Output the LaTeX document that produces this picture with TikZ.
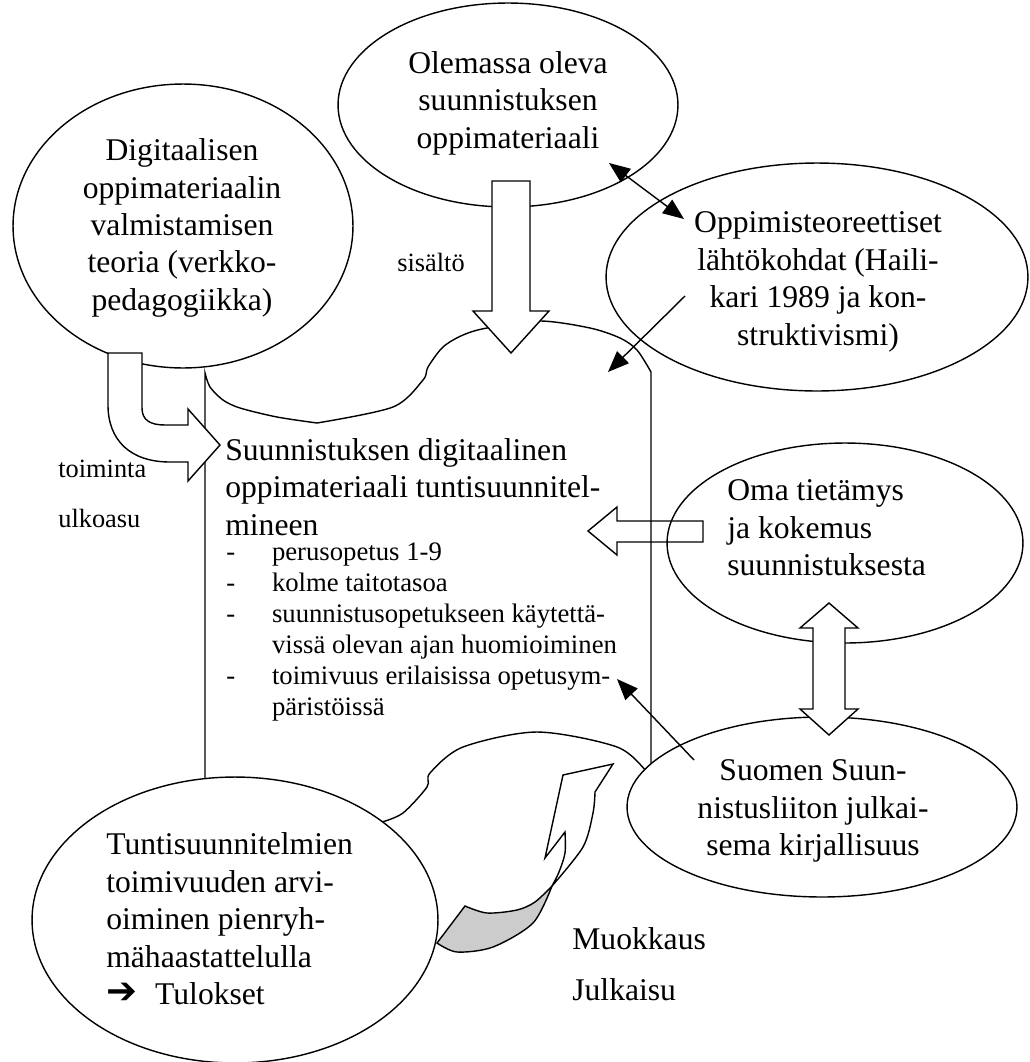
\documentclass[tikz,border=0pt]{standalone}
\usepackage{fontspec}
\setmainfont{Liberation Serif}
\newfontfamily\symfont{DejaVu Sans}
\usetikzlibrary{shapes.geometric,arrows.meta}

\newcommand\itemdash{\makebox[26pt][l]{-}}
\newcommand\itemgap{\hspace*{26pt}}
\newcommand\resultarrow{\makebox[27.8pt][l]{\raisebox{0.5pt}{\symfont\fontsize{21}{21}\selectfont ➔}}}

\tikzset{headtip/.tip={Triangle[length=12pt,width=9.5pt]}}

\begin{document}
\begin{tikzpicture}[x=0.02cm,y=-0.02cm,
  outline/.style={draw=black,line width=0.8pt,line join=miter},
  oval/.style={ellipse,draw=black,line width=0.8pt,fill=white,inner sep=0pt},
  blockarrow/.style={outline,fill=white},
  thinarrow/.style={draw=black,line width=0.8pt},
  bigtext/.style={font=\fontsize{18}{21.3}\selectfont,inner sep=0pt},
  listtext/.style={font=\fontsize{15.2}{17.6}\selectfont,inner sep=0pt,align=left},
  labeltext/.style={font=\fontsize{15}{17}\selectfont,inner sep=0pt},
]
\useasboundingbox (0,0) rectangle (1029,1062);

% the scroll-shaped sheet holding the lesson material
\filldraw[outline,fill=white]
  plot[smooth] coordinates {(205,373) (210,387) (223,400) (240,408) (277,417) (317,423)}
  -- plot[smooth] coordinates {(317,423) (393,407) (423,380) (428,367) (443,347) (463,335) (487,328) (540,321) (590,328) (620,338) (637,350) (651,372)}
  -- (651,778)
  -- plot[smooth] coordinates {(651,778) (648,773) (617,747) (537,732) (463,747) (430,773) (427,787) (403,813) (382,822)}
  -- (382,870) -- (205,870) -- cycle;

% ovals
\node[oval,minimum width=6.8cm,minimum height=5.68cm] (teoria) at (183,226) {};
\node[oval,minimum width=6.8cm,minimum height=4.08cm] (olemassa) at (508,105) {};
\node[oval,minimum width=8.44cm,minimum height=4.56cm] (oppimis) at (817,277) {};
\node[oval,minimum width=7.12cm,minimum height=4cm] (oma) at (845,543) {};
\node[oval,minimum width=7.8cm,minimum height=3.6cm] (liitto) at (822,807) {};
\node[oval,minimum width=8.12cm,minimum height=5.72cm] (arviointi) at (235,920) {};

% block arrow: content flows down into the sheet
\filldraw[blockarrow] (492,181) -- (530,181) -- (530,311) -- (549,311) -- (511,353)
  -- (473,311) -- (492,311) -- cycle;

% bent block arrow from the theory oval
\filldraw[blockarrow] (108,353) -- (142,353) -- (142,408)
  .. controls (142,420) and (150,425) .. (165,425) -- (188,425) -- (188,409)
  -- (220,445) -- (188,481) -- (188,462) -- (170,462)
  .. controls (130,462) and (108,440) .. (108,405) -- cycle;

% block arrow from own knowledge
\draw[outline] (703,521) -- (617,521) -- (617,507) -- (588,531) -- (617,555)
  -- (617,542) -- (703,542) -- cycle;

% two-way block arrow between the right ovals
\filldraw[blockarrow] (829,603) -- (858,628) -- (845,628) -- (845,709) -- (858,709)
  -- (829,735) -- (800,709) -- (813,709) -- (813,628) -- (800,628) -- cycle;

% twisted curved arrow: front face
\filldraw[blockarrow] (565,832) -- (545,858) -- (563,775) -- (613,764) -- (595,792)
  -- plot[smooth] coordinates {(595,792) (593,813) (583,847) (552,886)}
  -- plot[smooth] coordinates {(552,886) (559,872) (565,853) (565,832)} -- cycle;
% twisted curved arrow: back face
\filldraw[outline,fill=black!20]
  plot[smooth] coordinates {(552,886) (535,902) (517,910) (487,913) (465,906)}
  -- (437,943)
  -- plot[smooth] coordinates {(437,943) (457,952) (493,947) (533,923) (552,886)} -- cycle;

% thin connectors
\coordinate (olemassaEdge) at (609,163);
\coordinate (oppimisEdge) at (684,219);
\coordinate (oppimisFrom) at (685,296);
\coordinate (sheetTop) at (608,372);
\coordinate (liittoFrom) at (694,760);
\coordinate (listEnd) at (617,679);
\draw[thinarrow,headtip-headtip] (olemassaEdge) -- (oppimisEdge);
\draw[thinarrow,-headtip] (oppimisFrom) -- (sheetTop);
\draw[thinarrow,-headtip] (liittoFrom) -- (listEnd);

% oval texts
\node[bigtext,align=center] (teoriaText) at (182,228)
  {Digitaalisen\\oppimateriaalin\\valmistamisen\\teoria (verkko-\\pedagogiikka)};
\node[bigtext,align=center] (olemassaText) at (508,103)
  {Olemassa oleva\\suunnistuksen\\oppimateriaali};
\node[bigtext,align=center] (oppimisText) at (818,282)
  {Oppimisteoreettiset\\lähtökohdat (Haili-\\kari 1989 ja kon-\\struktivismi)};
\node[bigtext,align=left,anchor=west] (omaText) at (727,528)
  {Oma tietämys\\ja kokemus\\suunnistuksesta};
\node[bigtext,align=center] (liittoText) at (813,811)
  {Suomen Suun-\\nistusliiton julkai-\\sema kirjallisuus};
\node[bigtext,align=left,anchor=west] (arviointiText) at (106,919)
  {Tuntisuunnitelmien\\toimivuuden arvi-\\oiminen pienryh-\\mähaastattelulla\\
   \resultarrow Tulokset};

% sheet texts
\node[bigtext,align=left,anchor=west] (sheetTitle) at (225,487)
  {Suunnistuksen digitaalinen\\oppimateriaali tuntisuunnitel-\\mineen};
\node[listtext,anchor=west] (sheetList) at (226,632)
  {\itemdash perusopetus 1-9\\
   \itemdash kolme taitotasoa\\
   \itemdash suunnistusopetukseen käytettä-\\
   \itemgap vissä olevan ajan huomioiminen\\
   \itemdash toimivuus erilaisissa opetusym-\\
   \itemgap päristöissä};

% arrow labels
\node[labeltext] (sisalto) at (431,262) {sisältö};
\node[labeltext,anchor=base west] (toiminta) at (58,477) {toiminta};
\node[labeltext,anchor=base west] (ulkoasu) at (58,527) {ulkoasu};
\node[bigtext,anchor=base west] (muokkaus) at (572,949) {Muokkaus};
\node[bigtext,anchor=base west] (julkaisu) at (572,1000) {Julkaisu};
\end{tikzpicture}
\end{document}
